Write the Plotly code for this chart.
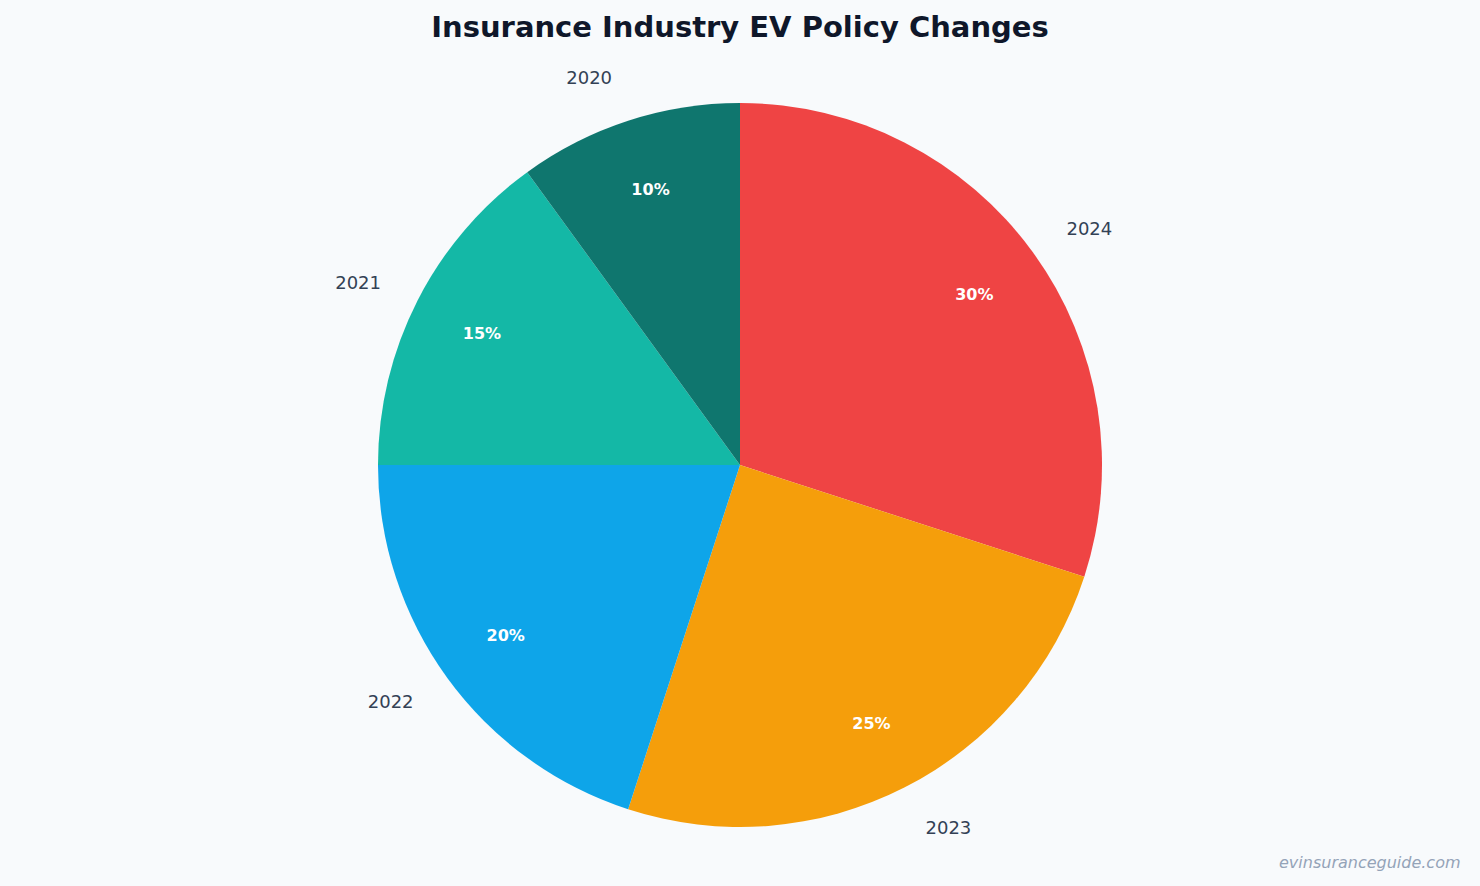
import plotly.graph_objects as go

years = ["2020", "2021", "2022", "2023", "2024"]
shares = [10, 15, 20, 25, 30]
colors = ["#0f766e", "#14b8a6", "#0ea5e9", "#f59e0b", "#ef4444"]

# draw clockwise from 12 o'clock starting with the latest year
lab = years[::-1]
val = shares[::-1]
col = colors[::-1]

T, B, L, R = 60, 20, 20, 20
plot_h = 886 - T - B
plot_w = 1480 - L - R
cy = (886 - B - 465) / plot_h
cx = (740 - L) / plot_w


def dom(r):
    fy = r / plot_h
    fx = 420 / plot_w
    return dict(x=[cx - fx, cx + fx], y=[cy - fy, cy + fy])


fig = go.Figure()
# filled pie
fig.add_trace(go.Pie(
    labels=lab, values=val, sort=False, direction="clockwise", rotation=0,
    marker=dict(colors=col, line=dict(width=0)),
    textinfo="none", showlegend=False, domain=dom(362),
))
# transparent ring carrying the percentages
fig.add_trace(go.Pie(
    labels=lab, values=val, sort=False, direction="clockwise", rotation=0, hole=0.6,
    marker=dict(colors=["rgba(0,0,0,0)"] * 5, line=dict(width=0)),
    textinfo="percent", textposition="inside", insidetextorientation="horizontal",
    textfont=dict(family="DejaVu Sans", size=16, color="white", weight="bold"),
    showlegend=False, hoverinfo="skip", domain=dom(362),
))
# transparent larger pie carrying the year labels outside
fig.add_trace(go.Pie(
    labels=lab, values=val, sort=False, direction="clockwise", rotation=0,
    marker=dict(colors=["rgba(0,0,0,0)"] * 5, line=dict(width=0)),
    textinfo="label", textposition="outside",
    textfont=dict(family="DejaVu Sans", size=18, color="#334155"),
    showlegend=False, hoverinfo="skip", domain=dom(397),
))
fig.update_layout(
    width=1480, height=886,
    paper_bgcolor="#f8fafc", plot_bgcolor="#f8fafc",
    margin=dict(t=T, b=B, l=L, r=R),
    title=dict(text="<b>Insurance Industry EV Policy Changes</b>", x=0.5, xanchor="center",
               y=1 - 27 / 886, yanchor="middle",
               font=dict(family="DejaVu Sans", size=29, color="#0f172a")),
    annotations=[dict(text="evinsuranceguide.com", xref="paper", yref="paper",
                      x=1, y=0, xanchor="right", yanchor="middle", showarrow=False,
                      align="right", xshift=3, yshift=4,
                      font=dict(family="DejaVu Sans", size=16, color="#94a3b8",
                                style="italic"))],
)
fig.write_html("out.html")
